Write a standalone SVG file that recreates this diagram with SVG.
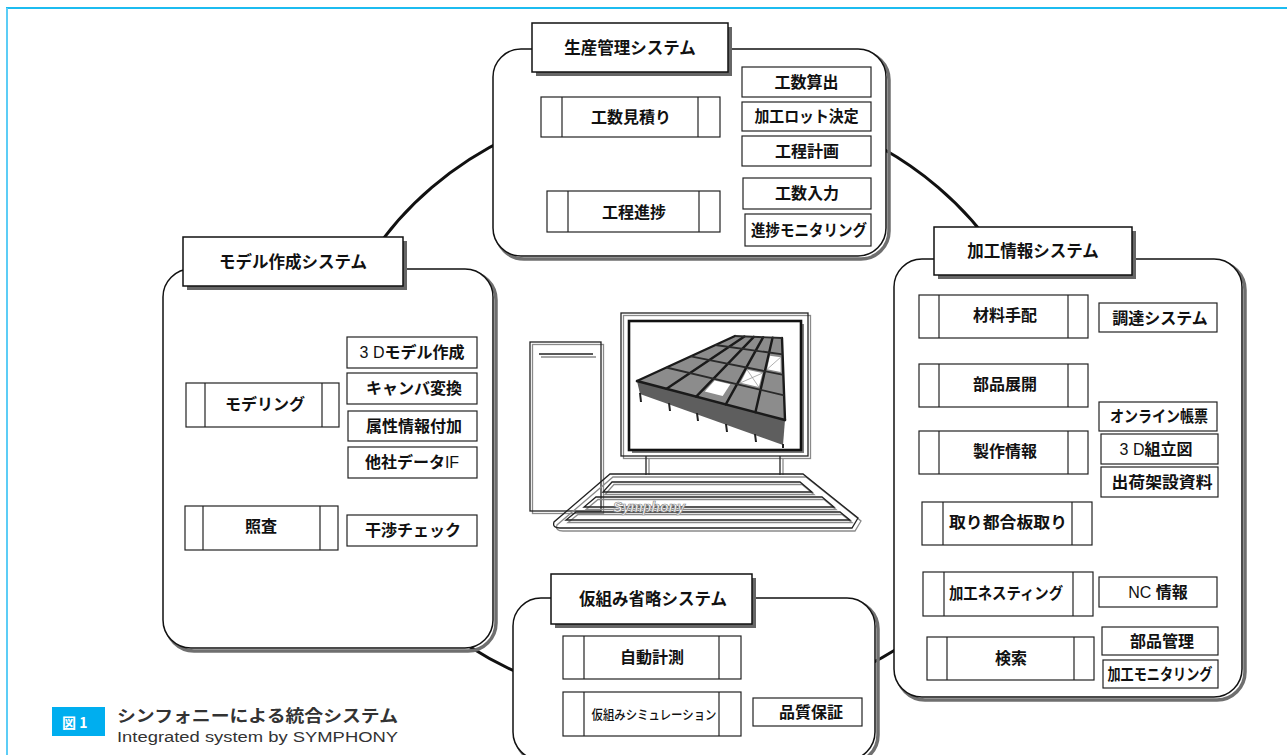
<svg xmlns="http://www.w3.org/2000/svg" width="1287" height="755" viewBox="0 0 1287 755">
  <defs>
    <style>
      .pshadow { fill: none; stroke: #6f6f6f; stroke-width: 3.5; }
      .panel { fill: #fff; stroke: #111; stroke-width: 1.5; }
      .tshadow { fill: #666; }
      .tbox { fill: #fff; stroke: #111; stroke-width: 1.5; }
      .box { fill: #fff; stroke: #222; stroke-width: 1.2; }
      .div { stroke: #222; stroke-width: 1.2; }
      .jp { font-family: "Noto Sans CJK JP", "Noto Sans CJK SC", sans-serif; font-weight: bold; font-size: 16px; fill: #111; text-anchor: middle; }
      .ttl { font-size: 16.5px; }
      .lat { font-family: "Liberation Sans", Arial, sans-serif; font-weight: normal; }
      .dbl1 { fill: none; stroke: #222; stroke-width: 1.3; }
      .dbl2 { fill: none; stroke: #8a8a8a; stroke-width: 1.3; }
      .beam { stroke: #1a1a1a; stroke-width: 2.4; fill: none; stroke-linecap: round; }
      .beam2 { stroke: #2a2a2a; stroke-width: 1.8; fill: none; }
    </style>
  </defs>

  <!-- page frame -->
  <line x1="6" y1="8" x2="1287" y2="8" stroke="#1cbcf0" stroke-width="2"/>
  <line x1="7" y1="8" x2="7" y2="755" stroke="#5ccdf6" stroke-width="2"/>

  <!-- connectors: ring linking the subsystems -->
  <g id="connectors">
    <ellipse cx="685" cy="403" rx="358" ry="305" fill="none" stroke="#111" stroke-width="3"/>
  </g>

  <!-- production management -->
  <g id="node-production">
    <rect class="pshadow" x="496" y="52" width="393" height="207" rx="28"/>
    <rect class="panel" x="493" y="49" width="393" height="207" rx="28"/>
    <rect class="tshadow" x="536" y="27" width="196" height="49"/>
    <rect class="tbox" x="532" y="23" width="196" height="49"/>
    <text class="jp ttl" x="630" y="53.5">生産管理システム</text>

    <rect class="box" x="541" y="97" width="179" height="40"/>
    <line class="div" x1="562" y1="97" x2="562" y2="137"/>
    <line class="div" x1="698" y1="97" x2="698" y2="137"/>
    <text class="jp" x="631" y="123">工数見積り</text>

    <rect class="box" x="547" y="191" width="173" height="41"/>
    <line class="div" x1="568" y1="191" x2="568" y2="232"/>
    <line class="div" x1="699" y1="191" x2="699" y2="232"/>
    <text class="jp" x="634" y="217.5">工程進捗</text>

    <rect class="box" x="742" y="67" width="129" height="30"/>
    <text class="jp" x="806.5" y="87.5">工数算出</text>
    <rect class="box" x="742" y="102" width="129" height="29"/>
    <text class="jp" x="806.5" y="122" textLength="104" lengthAdjust="spacingAndGlyphs">加工ロット決定</text>
    <rect class="box" x="742" y="136" width="129" height="30"/>
    <text class="jp" x="807" y="156.5">工程計画</text>
    <rect class="box" x="743" y="178" width="128" height="31"/>
    <text class="jp" x="807" y="199">工数入力</text>
    <rect class="box" x="745" y="214" width="126" height="32"/>
    <text class="jp" x="809" y="235.5" textLength="116" lengthAdjust="spacingAndGlyphs">進捗モニタリング</text>
  </g>

  <!-- modelling -->
  <g id="node-modeling">
    <rect class="pshadow" x="166" y="272" width="330" height="379" rx="28"/>
    <rect class="panel" x="163" y="269" width="330" height="379" rx="28"/>
    <rect class="tshadow" x="187" y="241" width="220" height="49"/>
    <rect class="tbox" x="183" y="237" width="220" height="49"/>
    <text class="jp ttl" x="293" y="267.5">モデル作成システム</text>

    <rect class="box" x="186" y="383" width="153" height="44"/>
    <line class="div" x1="205" y1="383" x2="205" y2="427"/>
    <line class="div" x1="322" y1="383" x2="322" y2="427"/>
    <text class="jp" x="265" y="410">モデリング</text>

    <rect class="box" x="185" y="506" width="153" height="44"/>
    <line class="div" x1="203" y1="506" x2="203" y2="550"/>
    <line class="div" x1="320" y1="506" x2="320" y2="550"/>
    <text class="jp" x="261" y="532">照査</text>

    <rect class="box" x="347" y="337" width="130" height="31"/>
    <text class="jp" x="412" y="358"><tspan class="lat">3 D</tspan>モデル作成</text>
    <rect class="box" x="347" y="373" width="130" height="31"/>
    <text class="jp" x="414" y="394">キャンバ変換</text>
    <rect class="box" x="348" y="411" width="129" height="30"/>
    <text class="jp" x="414" y="431.5">属性情報付加</text>
    <rect class="box" x="348" y="447" width="129" height="31"/>
    <text class="jp" x="412" y="468">他社データ<tspan class="lat">IF</tspan></text>
    <rect class="box" x="347" y="515" width="130" height="31"/>
    <text class="jp" x="413" y="536">干渉チェック</text>
  </g>

  <!-- fabrication information -->
  <g id="node-fabrication">
    <rect class="pshadow" x="897" y="262" width="348" height="438" rx="28"/>
    <rect class="panel" x="894" y="259" width="348" height="438" rx="28"/>
    <rect class="tshadow" x="938" y="231" width="198" height="48"/>
    <rect class="tbox" x="934" y="227" width="198" height="48"/>
    <text class="jp ttl" x="1033" y="257">加工情報システム</text>

    <rect class="box" x="919" y="295" width="169" height="43"/>
    <line class="div" x1="939" y1="295" x2="939" y2="338"/>
    <line class="div" x1="1068" y1="295" x2="1068" y2="338"/>
    <text class="jp" x="1005" y="321">材料手配</text>

    <rect class="box" x="919" y="364" width="169" height="43"/>
    <line class="div" x1="939" y1="364" x2="939" y2="407"/>
    <line class="div" x1="1068" y1="364" x2="1068" y2="407"/>
    <text class="jp" x="1005" y="390">部品展開</text>

    <rect class="box" x="919" y="431" width="169" height="43"/>
    <line class="div" x1="939" y1="431" x2="939" y2="474"/>
    <line class="div" x1="1068" y1="431" x2="1068" y2="474"/>
    <text class="jp" x="1005" y="457">製作情報</text>

    <rect class="box" x="922" y="502" width="170" height="43"/>
    <line class="div" x1="943" y1="502" x2="943" y2="545"/>
    <line class="div" x1="1072" y1="502" x2="1072" y2="545"/>
    <text class="jp" x="1008" y="528" textLength="118" lengthAdjust="spacingAndGlyphs">取り都合板取り</text>

    <rect class="box" x="923" y="572" width="170" height="44"/>
    <line class="div" x1="944" y1="572" x2="944" y2="616"/>
    <line class="div" x1="1073" y1="572" x2="1073" y2="616"/>
    <text class="jp" x="1006" y="599" textLength="114" lengthAdjust="spacingAndGlyphs">加工ネスティング</text>

    <rect class="box" x="927" y="637" width="167" height="43"/>
    <line class="div" x1="947" y1="637" x2="947" y2="680"/>
    <line class="div" x1="1074" y1="637" x2="1074" y2="680"/>
    <text class="jp" x="1011" y="664">検索</text>

    <rect class="box" x="1099" y="303" width="118" height="29"/>
    <text class="jp" x="1160" y="323.5">調達システム</text>
    <rect class="box" x="1099" y="402" width="118" height="29"/>
    <text class="jp" x="1159" y="422" textLength="98" lengthAdjust="spacingAndGlyphs">オンライン帳票</text>
    <rect class="box" x="1101" y="434" width="117" height="30"/>
    <text class="jp" x="1156" y="454.5"><tspan class="lat">3 D</tspan>組立図</text>
    <rect class="box" x="1101" y="467" width="117" height="30"/>
    <text class="jp" x="1162" y="487.5" textLength="101" lengthAdjust="spacingAndGlyphs">出荷架設資料</text>
    <rect class="box" x="1099" y="577" width="118" height="30"/>
    <text class="jp" x="1158" y="597.5"><tspan class="lat">NC </tspan>情報</text>
    <rect class="box" x="1102" y="627" width="116" height="28"/>
    <text class="jp" x="1162" y="646.5">部品管理</text>
    <rect class="box" x="1103" y="660" width="115" height="28"/>
    <text class="jp" x="1160" y="679.5" textLength="105" lengthAdjust="spacingAndGlyphs">加工モニタリング</text>
  </g>

  <!-- trial assembly omission -->
  <g id="node-assembly">
    <rect class="pshadow" x="516" y="601" width="362" height="162" rx="28"/>
    <rect class="panel" x="513" y="598" width="362" height="162" rx="28"/>
    <rect class="tshadow" x="555" y="578" width="201" height="50"/>
    <rect class="tbox" x="551" y="574" width="201" height="50"/>
    <text class="jp ttl" x="653" y="605">仮組み省略システム</text>

    <rect class="box" x="563" y="636" width="178" height="43"/>
    <line class="div" x1="584" y1="636" x2="584" y2="679"/>
    <line class="div" x1="719" y1="636" x2="719" y2="679"/>
    <text class="jp" x="652" y="663">自動計測</text>

    <rect class="box" x="563" y="692" width="178" height="44"/>
    <line class="div" x1="584" y1="692" x2="584" y2="736"/>
    <line class="div" x1="719" y1="692" x2="719" y2="736"/>
    <text class="jp" x="654" y="719" style="font-size:13px;font-weight:500" textLength="125" lengthAdjust="spacingAndGlyphs">仮組みシミュレーション</text>

    <rect class="box" x="753" y="698" width="109" height="28"/>
    <text class="jp" x="811" y="718">品質保証</text>
  </g>

  <!-- central workstation -->
  <g id="node-computer">
    <!-- tower -->
    <rect class="dbl2" x="532.5" y="344.5" width="71" height="169"/>
    <rect class="dbl1" x="530" y="342" width="71" height="169" fill="#fff"/>
    <line class="dbl2" x1="541" y1="357" x2="596" y2="357"/>
    <line class="dbl1" x1="539" y1="354" x2="593" y2="354"/>

    <!-- monitor -->
    <rect class="dbl2" x="623.5" y="315.5" width="187" height="143"/>
    <rect class="dbl1" x="621" y="313" width="187" height="143" fill="#fff"/>
    <rect x="632" y="324" width="172" height="129" fill="#7a7a7a"/>
    <rect x="629" y="321" width="172" height="129" fill="#fff" stroke="#111" stroke-width="2.6"/>

    <!-- steel frame shown on the screen -->
    <polygon points="637,381 785,420 783,445 640,394" fill="#5e5e5e"/>
    <g stroke="#222" stroke-width="2">
      <line x1="640" y1="393" x2="641" y2="402"/>
      <line x1="669" y1="403" x2="670" y2="411"/>
      <line x1="697" y1="413" x2="698" y2="421"/>
      <line x1="726" y1="424" x2="727" y2="432"/>
      <line x1="755" y1="434" x2="756" y2="442"/>
      <line x1="783" y1="444" x2="783" y2="448"/>
    </g>
    <polygon points="637,381 735,336 782,338 785,420" fill="#8c8c8c"/>
    <polygon points="704.8,391.4 722.7,396 730.3,384.2 714.7,380.4" fill="#fff"/>
    <polygon points="740.5,382.8 758.8,387 762.5,373.1 747.1,369.8" fill="#fff"/>
    <polygon points="767.1,369.3 780.6,371.9 780.6,357.3 769.9,355.7" fill="#fff"/>
    <g stroke="#9a9a9a" stroke-width="0.8">
      <line x1="740.5" y1="382.8" x2="762.5" y2="373.1"/>
      <line x1="758.8" y1="387" x2="747.1" y2="369.8"/>
      <line x1="767.1" y1="369.3" x2="780.6" y2="357.3"/>
    </g>
    <line class="beam" x1="637" y1="381" x2="735" y2="336"/>
    <line class="beam" x1="666.6" y1="388.8" x2="744.4" y2="336.4"/>
    <line class="beam" x1="696.2" y1="396.6" x2="753.8" y2="336.8"/>
    <line class="beam" x1="725.8" y1="404.4" x2="763.2" y2="337.2"/>
    <line class="beam" x1="755.4" y1="412.2" x2="772.6" y2="337.6"/>
    <line class="beam" x1="785" y1="420" x2="782" y2="338"/>
    <line class="beam" x1="637" y1="381" x2="785" y2="420"/>
    <line class="beam2" x1="666.4" y1="367.5" x2="784.1" y2="395.4"/>
    <line class="beam2" x1="690.9" y1="356.3" x2="783.4" y2="374.9"/>
    <line class="beam2" x1="715.4" y1="345" x2="782.6" y2="354.4"/>
    <line class="beam2" x1="735" y1="336" x2="782" y2="338"/>

    <!-- stand -->
    <line class="dbl1" x1="646" y1="456" x2="646" y2="475"/>
    <line class="dbl2" x1="649" y1="458" x2="649" y2="475"/>
    <line class="dbl1" x1="780" y1="456" x2="780" y2="475"/>
    <line class="dbl2" x1="783" y1="458" x2="783" y2="475"/>

    <!-- keyboard -->
    <path class="dbl2" d="M613,477 L806,477 L861,521 L855,531 L563,531 Q555,531 557,525 Z"/>
    <path class="dbl1" d="M610,474 L803,474 L858,518 L852,528 L560,528 Q552,528 554,522 Z" fill="#fff"/>
    <polygon class="dbl2" points="614,484.5 802,484.5 814,494.5 605,494.5"/>
    <polygon class="dbl1" points="612,482 800,482 812,492 603,492"/>
    <polygon class="dbl2" points="598,499.5 824,499.5 836,509.5 586,509.5"/>
    <polygon class="dbl1" points="596,497 822,497 834,507 584,507"/>
    <polygon class="dbl2" points="578,514.5 842,514.5 852,522.5 568,522.5"/>
    <polygon class="dbl1" points="576,512 840,512 850,520 566,520"/>
    <text x="613" y="512" font-family="'Liberation Sans', Arial, sans-serif" font-size="14" font-style="italic" font-weight="bold" fill="#fff" stroke="#8a8a8a" stroke-width="0.7" textLength="72" lengthAdjust="spacingAndGlyphs">Symphony</text>
  </g>

  <!-- figure caption -->
  <g id="caption">
    <rect x="52" y="707" width="53" height="29" fill="#00aeef"/>
    <text x="62" y="728" font-family="'Noto Sans CJK JP', sans-serif" font-weight="bold" font-size="14" fill="#fff">図 1</text>
    <text x="117" y="722" font-family="'Noto Sans CJK JP', sans-serif" font-weight="bold" font-size="16.5" fill="#333" textLength="281" lengthAdjust="spacingAndGlyphs">シンフォニーによる統合システム</text>
    <text x="117" y="742" font-family="'Liberation Sans', Arial, sans-serif" font-size="15.5" fill="#333" textLength="281" lengthAdjust="spacingAndGlyphs">Integrated system by SYMPHONY</text>
  </g>
</svg>
